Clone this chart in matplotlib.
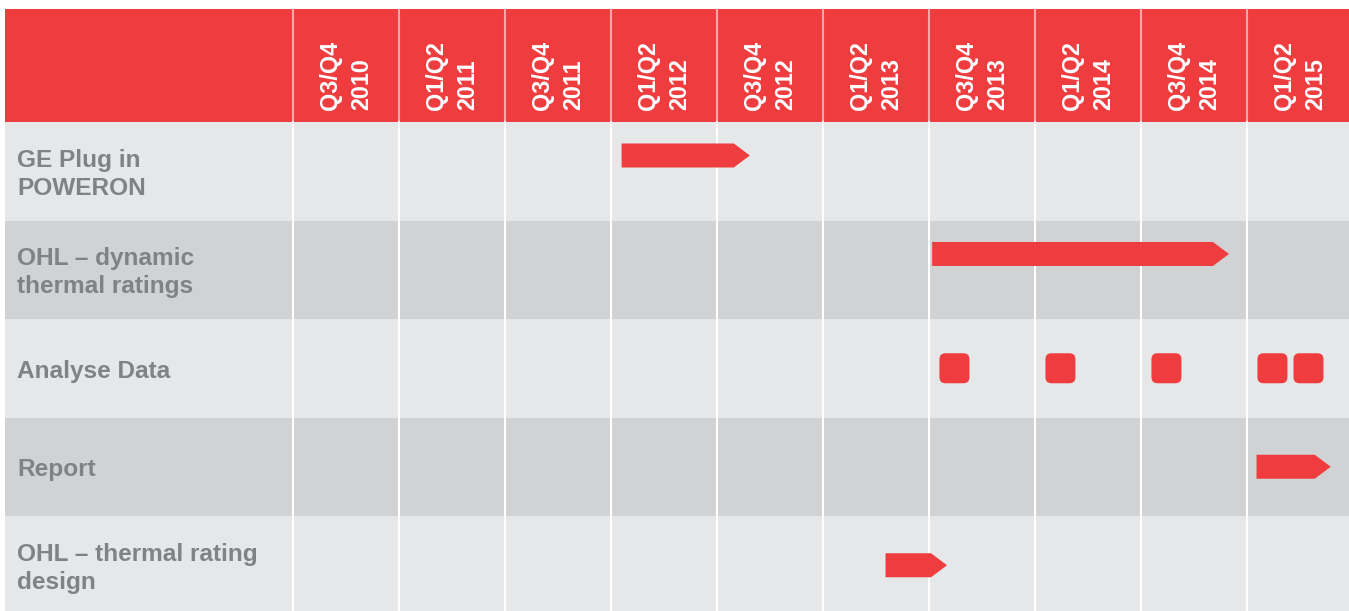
import matplotlib.pyplot as plt
from matplotlib.patches import Rectangle, Polygon, FancyBboxPatch

periods = ["Q3/Q4\n2010", "Q1/Q2\n2011", "Q3/Q4\n2011", "Q1/Q2\n2012", "Q3/Q4\n2012",
           "Q1/Q2\n2013", "Q3/Q4\n2013", "Q1/Q2\n2014", "Q3/Q4\n2014", "Q1/Q2\n2015"]
tasks = ["GE Plug in\nPOWERON", "OHL \u2013 dynamic\nthermal ratings", "Analyse Data",
         "Report", "OHL \u2013 thermal rating\ndesign"]

# arrows: (task index, start, end) in period units (0 = start of Q3/Q4 2010)
arrow_task = [0, 1, 3, 4]
arrow_start = [3.10, 6.03, 9.09, 5.59]
arrow_end = [4.31, 8.83, 9.79, 6.17]

# milestones: (task index, centre) in period units
milestone_task = [2, 2, 2, 2, 2]
milestone_pos = [6.24, 7.24, 8.24, 9.24, 9.58]

red = "#EF3D3F"
light = "#E6E7E8"
dark = "#D1D2D4"
grey = "#808285"

# layout (pixels of the 1349x611 picture)
col_px = 106.0
row_px = 98.5
label_w = (293 - 5) / col_px
header_h = (122 - 9) / row_px
right = (1349 - 293) / col_px
bottom = (611 - 122) / row_px
bar_shift = [-0.16, -0.16, 0.0, 0.0, 0.0]

fig = plt.figure(figsize=(13.49, 6.11), dpi=100)
ax = fig.add_axes([5 / 1349, 0, 1344 / 1349, 602 / 611])
ax.set_xlim(-label_w, right)
ax.set_ylim(bottom, -header_h)
ax.axis("off")

# header
ax.add_patch(Rectangle((-label_w, -header_h), label_w + right, header_h, color=red, lw=0,
                       zorder=0))
for i, p in enumerate(periods):
    ax.text(i + 0.5, -12 / row_px, p, rotation=90, ha="center", va="bottom",
            multialignment="left", color="white", fontsize=16.8, fontweight="bold",
            family="Liberation Sans", linespacing=1.42, zorder=3)

# rows
for r, t in enumerate(tasks):
    ax.add_patch(Rectangle((-label_w, r), label_w + right, 1,
                           color=light if r % 2 == 0 else dark, lw=0, zorder=0))
    ax.text(-label_w + 12 / col_px, r + 0.53, t, ha="left", va="center", color=grey,
            fontsize=17.6, fontweight="bold", family="Liberation Sans", linespacing=1.3,
            zorder=3)

# vertical separators
for i in range(len(periods)):
    ax.plot([i, i], [-header_h, 0], color="white", alpha=0.55, lw=1.5, zorder=1)
    ax.plot([i, i], [0, len(tasks)], color="white", lw=1.5, zorder=1)

# arrows
bh = 24 / row_px
tip = 16 / col_px
for r, x0, x1 in zip(arrow_task, arrow_start, arrow_end):
    yc = r + 0.5 + bar_shift[r]
    pts = [(x0, yc - bh / 2), (x1 - tip, yc - bh / 2), (x1, yc),
           (x1 - tip, yc + bh / 2), (x0, yc + bh / 2)]
    ax.add_patch(Polygon(pts, closed=True, color=red, lw=0, zorder=2))

# milestones
sw = 30 / col_px
sh = 30 / row_px
rad = 6 / col_px
for r, xc in zip(milestone_task, milestone_pos):
    yc = r + 0.5 + bar_shift[r]
    ax.add_patch(FancyBboxPatch((xc - sw / 2 + rad, yc - sh / 2 + rad * col_px / row_px),
                                sw - 2 * rad, sh - 2 * rad * col_px / row_px,
                                boxstyle=f"round,pad={rad},rounding_size={rad}",
                                mutation_aspect=col_px / row_px, color=red, lw=0,
                                zorder=2))

fig.savefig("out.png", dpi=100)
